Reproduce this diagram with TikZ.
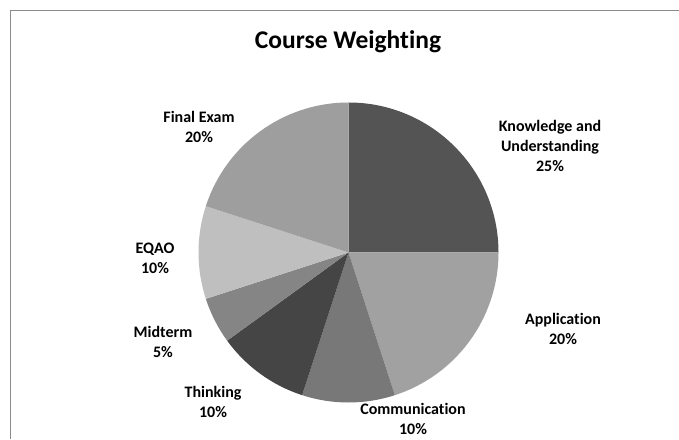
\documentclass[tikz,border=0pt]{standalone}
\usepackage{fontspec}
\setmainfont[Ligatures={NoCommon}]{Carlito}
\begin{document}
\begin{tikzpicture}[x=1pt,y=1pt,
  lbl/.style={font=\fontsize{16}{20}\selectfont\bfseries, align=center, text=black, inner sep=0pt},
  slice/.style={draw=none}]
\useasboundingbox (0,0) rectangle (679,439);
\fill[white] (0,0) rectangle (679,439);
\draw[line width=1pt, draw=black!45] (10,0) -- (10,428) -- (679,428);
\coordinate (c) at (348.5,186.5);
\def\R{150}
\fill[fill=black!67] (c) -- ++(90:\R) arc (90:0:\R) -- cycle;
\fill[fill=black!37] (c) -- ++(0:\R) arc (0:-72:\R) -- cycle;
\fill[fill=black!53] (c) -- ++(-72:\R) arc (-72:-108:\R) -- cycle;
\fill[fill=black!73] (c) -- ++(-108:\R) arc (-108:-144:\R) -- cycle;
\fill[fill=black!48] (c) -- ++(-144:\R) arc (-144:-162:\R) -- cycle;
\fill[fill=black!25] (c) -- ++(-162:\R) arc (-162:-198:\R) -- cycle;
\fill[fill=black!38] (c) -- ++(-198:\R) arc (-198:-270:\R) -- cycle;
\node[font=\fontsize{25.5}{30}\selectfont\bfseries, inner sep=0pt] (title) at (348,397) {Course Weighting};
\node[lbl] (final) at (199,312) {Final Exam\\20\%};
\node[lbl] (know) at (550,293) {Knowledge and\\Understanding\\25\%};
\node[lbl] (app) at (563,110) {Application\\20\%};
\node[lbl] (comm) at (413,20) {Communication\\10\%};
\node[lbl] (eqao) at (155,181) {EQAO\\10\%};
\node[lbl] (mid) at (163,97) {Midterm\\5\%};
\node[lbl] (think) at (213,37) {Thinking\\10\%};
\end{tikzpicture}
\end{document}
